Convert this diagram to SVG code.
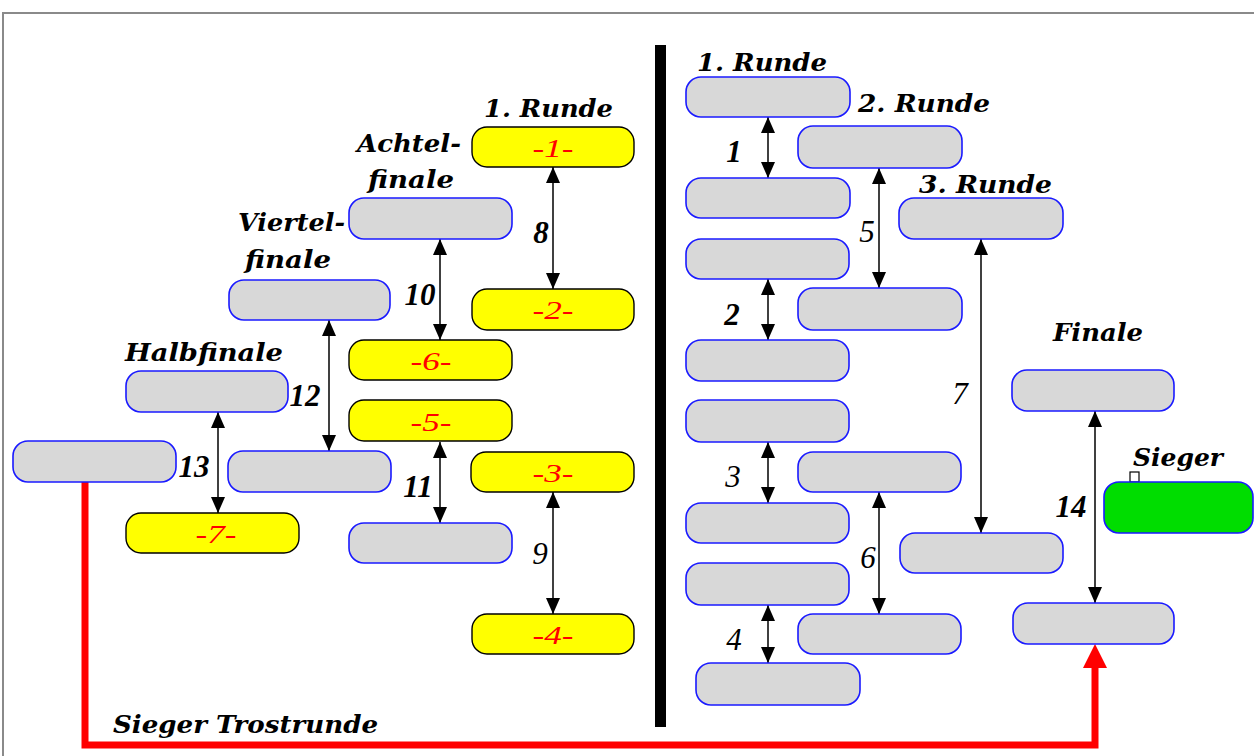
<svg xmlns="http://www.w3.org/2000/svg" width="1254" height="756" viewBox="0 0 1254 756">
<defs>
<style>
.g{fill:#d8d8d8;stroke:#1a1aff;stroke-width:1.6}
.y{fill:#ffff00;stroke:#000;stroke-width:1.4}
.gr{fill:#00dd00;stroke:#1a1aff;stroke-width:1.6}
.h{font-family:"DejaVu Serif","Liberation Serif",serif;font-weight:bold;font-style:italic;font-size:25px;fill:#000}
.n{font-family:"Liberation Serif",serif;font-style:italic;font-size:31px;fill:#000;text-anchor:middle}
.nb{font-weight:bold}
.l{font-family:"Liberation Serif",serif;font-style:italic;font-size:26px;fill:#ff0000;text-anchor:middle}
.c{stroke:#000;stroke-width:1.5;fill:none;marker-start:url(#a);marker-end:url(#a)}
</style>
<marker id="a" viewBox="0 0 16 14" refX="16" refY="7" markerWidth="16" markerHeight="14" markerUnits="userSpaceOnUse" orient="auto-start-reverse">
<path d="M0,0 L16,7 L0,14 z" fill="#000"/>
</marker>
</defs>
<rect width="1254" height="756" fill="#fff"/>
<path d="M3,756 V13 H1254" fill="none" stroke="#8a8a8a" stroke-width="2"/>
<rect x="655" y="45" width="11" height="682" fill="#000"/>

<g id="connectors">
<line class="c" x1="553" y1="167" x2="553" y2="289"/>
<line class="c" x1="440" y1="239" x2="440" y2="340"/>
<line class="c" x1="329" y1="320" x2="329" y2="451"/>
<line class="c" x1="218" y1="412" x2="218" y2="513"/>
<line class="c" x1="440" y1="442" x2="440" y2="523"/>
<line class="c" x1="553" y1="492" x2="553" y2="614"/>
<line class="c" x1="768" y1="117" x2="768" y2="178"/>
<line class="c" x1="768" y1="279" x2="768" y2="340"/>
<line class="c" x1="768" y1="442" x2="768" y2="503"/>
<line class="c" x1="768" y1="605" x2="768" y2="663"/>
<line class="c" x1="879" y1="168" x2="879" y2="288"/>
<line class="c" x1="879" y1="492" x2="879" y2="614"/>
<line class="c" x1="981" y1="239" x2="981" y2="533"/>
<line class="c" x1="1095" y1="411" x2="1095" y2="603"/>
<path d="M85,482 V745 H1095 V666" fill="none" stroke="#ff0000" stroke-width="7"/>
<path d="M1095,644 L1107,668 L1083,668 z" fill="#ff0000"/>
<text class="n nb" x="541" y="243">8</text>
<text class="n nb" x="420" y="305">10</text>
<text class="n nb" x="305" y="406">12</text>
<text class="n nb" x="194" y="477">13</text>
<text class="n nb" x="418" y="497">11</text>
<text class="n" x="540" y="564">9</text>
<text class="n nb" x="734" y="162">1</text>
<text class="n nb" x="732" y="325">2</text>
<text class="n" x="733" y="487">3</text>
<text class="n" x="734" y="650">4</text>
<text class="n" x="867" y="242">5</text>
<text class="n" x="868" y="568">6</text>
<text class="n" x="960" y="404">7</text>
<text class="n nb" x="1071" y="517">14</text>
</g>

<g id="label-sieger-trostrunde"><text class="h" x="113" y="733" font-size="26" textLength="265" lengthAdjust="spacingAndGlyphs">Sieger Trostrunde</text></g>

<g id="left-headings">
<text class="h" x="484" y="117" textLength="129" lengthAdjust="spacingAndGlyphs">1. Runde</text>
<text class="h" x="357" y="152" textLength="104" lengthAdjust="spacingAndGlyphs">Achtel-</text>
<text class="h" x="368" y="188" textLength="86" lengthAdjust="spacingAndGlyphs">finale</text>
<text class="h" x="238" y="231" textLength="107" lengthAdjust="spacingAndGlyphs">Viertel-</text>
<text class="h" x="245" y="268" textLength="86" lengthAdjust="spacingAndGlyphs">finale</text>
<text class="h" x="125" y="361" textLength="158" lengthAdjust="spacingAndGlyphs">Halbfinale</text>
</g>
<g id="right-headings">
<text class="h" x="697" y="71" textLength="130" lengthAdjust="spacingAndGlyphs">1. Runde</text>
<text class="h" x="858" y="112" textLength="132" lengthAdjust="spacingAndGlyphs">2. Runde</text>
<text class="h" x="919" y="193" textLength="133" lengthAdjust="spacingAndGlyphs">3. Runde</text>
<text class="h" x="1053" y="341" textLength="90" lengthAdjust="spacingAndGlyphs">Finale</text>
<text class="h" x="1133" y="466" textLength="90" lengthAdjust="spacingAndGlyphs">Sieger</text>
</g>

<g id="y1"><rect class="y" x="472" y="127" width="162" height="40" rx="15"/><text class="l" x="553" y="157" textLength="41" lengthAdjust="spacingAndGlyphs">-1-</text></g>
<g id="y2"><rect class="y" x="472" y="289" width="162" height="41" rx="15"/><text class="l" x="553" y="319" textLength="41" lengthAdjust="spacingAndGlyphs">-2-</text></g>
<g id="y3"><rect class="y" x="471" y="452" width="163" height="40" rx="15"/><text class="l" x="553" y="482" textLength="41" lengthAdjust="spacingAndGlyphs">-3-</text></g>
<g id="y4"><rect class="y" x="472" y="614" width="162" height="40" rx="15"/><text class="l" x="553" y="644" textLength="41" lengthAdjust="spacingAndGlyphs">-4-</text></g>
<g id="y5"><rect class="y" x="349" y="400" width="163" height="41" rx="15"/><text class="l" x="431" y="431" textLength="41" lengthAdjust="spacingAndGlyphs">-5-</text></g>
<g id="y6"><rect class="y" x="349" y="340" width="163" height="40" rx="15"/><text class="l" x="431" y="370" textLength="41" lengthAdjust="spacingAndGlyphs">-6-</text></g>
<g id="y7"><rect class="y" x="126" y="513" width="173" height="40" rx="15"/><text class="l" x="216" y="543" textLength="41" lengthAdjust="spacingAndGlyphs">-7-</text></g>

<g id="achtelfinale"><rect class="g" x="349" y="198" width="163" height="41" rx="15"/></g>
<g id="viertelfinale-1"><rect class="g" x="229" y="280" width="161" height="40" rx="15"/></g>
<g id="viertelfinale-2"><rect class="g" x="228" y="451" width="163" height="41" rx="15"/></g>
<g id="achtelfinale-2"><rect class="g" x="349" y="523" width="163" height="40" rx="15"/></g>
<g id="halbfinale"><rect class="g" x="126" y="371" width="162" height="41" rx="15"/></g>
<g id="trostsieger"><rect class="g" x="13" y="441" width="163" height="41" rx="15"/></g>

<g id="r1a"><rect class="g" x="686" y="77" width="164" height="40" rx="15"/></g>
<g id="r1b"><rect class="g" x="686" y="178" width="164" height="40" rx="15"/></g>
<g id="r1c"><rect class="g" x="686" y="239" width="163" height="40" rx="15"/></g>
<g id="r1d"><rect class="g" x="686" y="340" width="163" height="41" rx="15"/></g>
<g id="r1e"><rect class="g" x="686" y="400" width="163" height="42" rx="15"/></g>
<g id="r1f"><rect class="g" x="686" y="503" width="163" height="40" rx="15"/></g>
<g id="r1g"><rect class="g" x="686" y="563" width="163" height="42" rx="15"/></g>
<g id="r1h"><rect class="g" x="696" y="663" width="164" height="42" rx="15"/></g>

<g id="r2a"><rect class="g" x="798" y="126" width="164" height="42" rx="15"/></g>
<g id="r2b"><rect class="g" x="798" y="288" width="164" height="42" rx="15"/></g>
<g id="r2c"><rect class="g" x="798" y="452" width="163" height="40" rx="15"/></g>
<g id="r2d"><rect class="g" x="798" y="614" width="163" height="40" rx="15"/></g>

<g id="r3a"><rect class="g" x="899" y="198" width="164" height="41" rx="15"/></g>
<g id="r3b"><rect class="g" x="900" y="533" width="163" height="40" rx="15"/></g>

<g id="finale-1"><rect class="g" x="1012" y="370" width="162" height="41" rx="15"/></g>
<g id="finale-2"><rect class="g" x="1013" y="603" width="161" height="41" rx="15"/></g>

<g id="sieger">
<rect x="1130" y="472" width="9" height="10" fill="#fff" stroke="#000" stroke-width="1.2"/>
<rect class="gr" x="1104" y="482" width="149" height="51" rx="15"/>
</g>
</svg>
